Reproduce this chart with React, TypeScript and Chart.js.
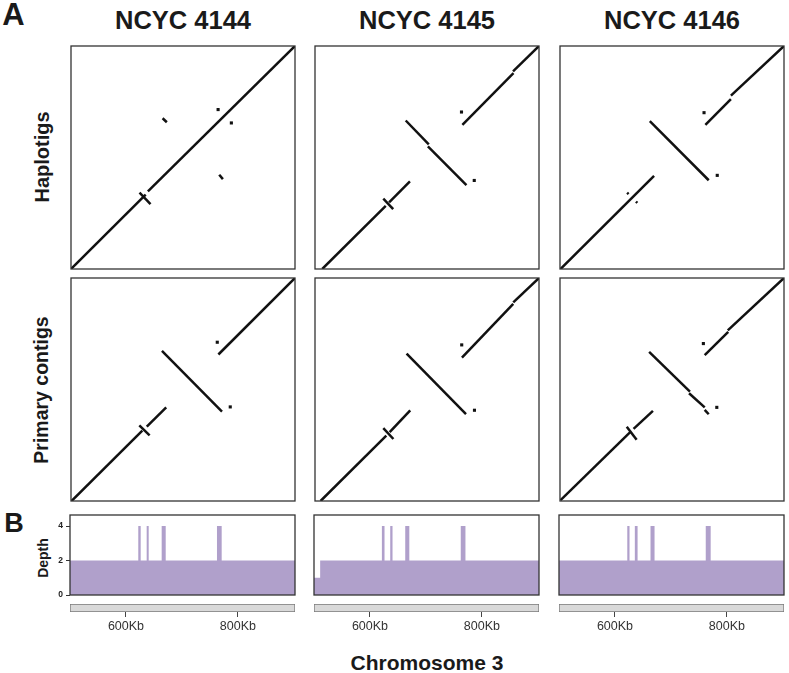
import React, { useEffect, useRef } from 'react';
import { Chart, registerables } from 'chart.js';

Chart.register(...registerables);

const FONT = "'Liberation Sans', Arial, Helvetica, sans-serif";

// ---------- data ----------
const strains = ['NCYC 4144', 'NCYC 4145', 'NCYC 4146'];
const rowLabels = ['Haplotigs', 'Primary contigs'];
const axisMinKb = 500;
const axisMaxKb = 902;
const xTickKb = [600, 800];
const depthMax = 4.64;

// alignment segments [refStartKb, qryStartKb, refEndKb, qryEndKb]
const hap4144Segments = [
  [500, 500, 634, 634],
  [638, 640, 902, 902],
  [623, 637.5, 642.7, 617],
  [664.4, 771.8, 672, 764.5],
  [766, 670, 772.6, 662],
];
const hap4144Dots = [[764, 787.4], [787.8, 763.3]];

const hap4145Segments = [
  [513, 500, 627, 614],
  [633, 620, 670.4, 658],
  [622.6, 627, 640.3, 608.1],
  [662.8, 767.7, 704.2, 724.7],
  [702.6, 721.1, 771.8, 651.2],
  [764.5, 759.7, 856.2, 853],
  [855.4, 856.2, 902, 902],
];
const hap4145Dots = [[785.8, 659.6], [762.9, 783]];

const hap4146Segments = [
  [501, 500, 668.8, 668],
  [620.5, 637.5, 623, 635],
  [636.3, 621.5, 638.8, 619],
  [661.2, 766.5, 766.9, 660],
  [760.9, 759.7, 806.7, 806.3],
  [806.7, 812.4, 902, 902],
];
const hap4146Dots = [[782.2, 668.8], [758.5, 781.8]];

const pri4144Segments = [
  [501, 500, 628, 627],
  [636, 634, 670.9, 668.8],
  [622.6, 636.3, 641.1, 618.2],
  [663.2, 770.5, 771, 661.2],
  [764.5, 764.1, 902, 902],
];
const pri4144Dots = [[785.8, 669.6], [762.5, 786.2]];

const pri4145Segments = [
  [510, 500, 628, 618],
  [634, 624, 670.9, 663.2],
  [622.6, 631.5, 640.7, 611.8],
  [664.4, 765.7, 771, 656.4],
  [763.7, 758.5, 855.8, 855.4],
  [855.8, 858.2, 902, 902],
];
const pri4145Dots = [[786.2, 663.6], [763.3, 781.4]];

const pri4146Segments = [
  [501, 501.6, 626, 624],
  [632, 630, 666.8, 662.4],
  [619.8, 633.9, 637.5, 610.6],
  [660, 768.9, 733.2, 697],
  [731.6, 694.2, 759.7, 668.8],
  [759.7, 664.4, 766.9, 656.4],
  [759.7, 762.9, 801.9, 804.7],
  [801.1, 807.5, 902, 902],
];
const pri4146Dots = [[781.4, 668.8], [757.3, 783.8]];

// depth steps [startKb, depth] (value holds until next start)
const depth4144 = [[500, 2], [622, 4], [626.3, 2], [637, 4], [640.6, 2], [663.8, 4], [671, 2], [762.6, 4], [771, 2], [902, 2]];
const depth4145 = [[500, 1], [511, 2], [621.3, 4], [626, 2], [636.2, 4], [640.3, 2], [663, 4], [670.3, 2], [762.2, 4], [770.6, 2], [902, 2]];
const depth4146 = [[500, 2], [622, 4], [626, 2], [635.5, 4], [640.4, 2], [663.5, 4], [670.7, 2], [762.2, 4], [771, 2], [902, 2]];
const depthTicks = [0, 2, 4];

// ---------- layout ----------
const colLefts = [70, 314, 559];
const dotW = 226;
const rowTops = [45, 277];
const dotH = 225;
const depthW = 225;

const framePlugin = {
  id: 'frame',
  afterDraw(chart: any, _args: any, opts: any) {
    if (!opts || !opts.color) return;
    const { ctx, chartArea } = chart;
    ctx.save();
    ctx.strokeStyle = opts.color;
    ctx.lineWidth = opts.width || 1;
    ctx.strokeRect(chartArea.left, chartArea.top, chartArea.right - chartArea.left, chartArea.bottom - chartArea.top);
    ctx.restore();
  },
};

function DotPlot({ left, top, segments, dots }: any) {
  const ref = useRef<HTMLCanvasElement>(null);
  useEffect(() => {
    const pad = 3;
    const chart = new Chart(ref.current as HTMLCanvasElement, {
      type: 'line',
      data: {
        datasets: [
          ...segments.map((s: number[]) => ({
            data: [{ x: s[0], y: s[1] }, { x: s[2], y: s[3] }],
            borderColor: '#111',
            borderWidth: 2.5,
            pointRadius: 0,
            fill: false,
          })),
          {
            data: dots.map((d: number[]) => ({ x: d[0], y: d[1] })),
            showLine: false,
            pointStyle: 'rect',
            pointRadius: 2.2,
            pointBackgroundColor: '#111',
            pointBorderColor: '#111',
            pointBorderWidth: 0,
          },
        ],
      } as any,
      options: {
        responsive: false,
        animation: false,
        events: [],
        layout: { padding: pad },
        plugins: { legend: { display: false }, tooltip: { enabled: false }, frame: { color: '#333', width: 1.3 } } as any,
        scales: {
          x: { type: 'linear', min: axisMinKb, max: axisMaxKb, display: false },
          y: { type: 'linear', min: axisMinKb, max: axisMaxKb, display: false },
        },
      },
      plugins: [framePlugin],
    });
    return () => chart.destroy();
  }, []);
  return (
    <canvas
      ref={ref}
      width={dotW + 6}
      height={dotH + 6}
      style={{ position: 'absolute', left: left - 3, top: top - 3, width: dotW + 6, height: dotH + 6 }}
    />
  );
}

function DepthPlot({ left, depth, showY }: any) {
  const ref = useRef<HTMLCanvasElement>(null);
  const axisW = 20;
  const leftPad = showY ? 0 : 2;
  const cw = depthW + (showY ? axisW : leftPad) + 2;
  useEffect(() => {
    const yScale: any = {
      type: 'linear',
      min: 0,
      max: depthMax,
      display: showY,
      afterBuildTicks: (s: any) => { s.ticks = depthTicks.map((v) => ({ value: v })); },
      ticks: { font: { family: FONT, size: 8.5, weight: 'bold' }, color: '#222', padding: 3 },
      grid: { drawOnChartArea: false, drawTicks: true, tickLength: 4, color: '#333' },
      border: { display: false },
    };
    if (showY) yScale.afterFit = (s: any) => { s.width = axisW; };
    const chart = new Chart(ref.current as HTMLCanvasElement, {
      type: 'line',
      data: {
        datasets: [
          {
            data: depth.map((d: number[]) => ({ x: d[0], y: d[1] })),
            stepped: true,
            fill: 'origin',
            backgroundColor: '#b0a0cb',
            borderColor: 'rgba(0,0,0,0)',
            borderWidth: 0,
            pointRadius: 0,
          },
        ],
      } as any,
      options: {
        responsive: false,
        animation: false,
        events: [],
        layout: { padding: { top: 10, bottom: 10, left: leftPad, right: 2 } },
        plugins: { legend: { display: false }, tooltip: { enabled: false }, frame: { color: '#333', width: 1.3 } } as any,
        scales: {
          x: { type: 'linear', min: axisMinKb, max: axisMaxKb, display: false },
          y: yScale,
        },
      },
      plugins: [framePlugin],
    });
    return () => chart.destroy();
  }, []);
  return (
    <canvas
      ref={ref}
      width={cw}
      height={100}
      style={{ position: 'absolute', left: left - (showY ? axisW : leftPad), top: 505, width: cw, height: 100 }}
    />
  );
}

function Ideogram({ left }: any) {
  const ref = useRef<HTMLCanvasElement>(null);
  useEffect(() => {
    const chart = new Chart(ref.current as HTMLCanvasElement, {
      type: 'bar',
      data: {
        labels: ['Chromosome 3'],
        datasets: [
          {
            data: [[axisMinKb, axisMaxKb]],
            backgroundColor: '#d9d9d9',
            borderColor: '#7a7a7a',
            borderWidth: 1,
            borderSkipped: false,
            barPercentage: 1,
            categoryPercentage: 1,
          },
        ],
      } as any,
      options: {
        indexAxis: 'y',
        responsive: false,
        animation: false,
        events: [],
        layout: { padding: { top: 3, left: 3, right: 3, bottom: 0 } },
        plugins: { legend: { display: false }, tooltip: { enabled: false } },
        scales: {
          x: {
            type: 'linear',
            min: axisMinKb,
            max: axisMaxKb,
            afterBuildTicks: (s: any) => { s.ticks = xTickKb.map((v) => ({ value: v })); },
            afterFit: (s: any) => { s.height = 30; },
            ticks: { callback: (v: any) => v + 'Kb', font: { family: FONT, size: 12.5 }, color: '#333', padding: 2, maxRotation: 0, autoSkip: false },
            grid: { drawOnChartArea: false, drawTicks: true, tickLength: 5, color: '#444' },
            border: { display: false },
          } as any,
          y: { display: false },
        },
      },
    });
    return () => chart.destroy();
  }, []);
  return (
    <canvas
      ref={ref}
      width={depthW + 6}
      height={41}
      style={{ position: 'absolute', left: left - 3, top: 601, width: depthW + 6, height: 41 }}
    />
  );
}

const txt = (extra: any): any => ({
  position: 'absolute',
  fontFamily: FONT,
  fontWeight: 'bold',
  color: '#1a1a1a',
  lineHeight: 1,
  whiteSpace: 'nowrap',
  ...extra,
});

export default function App() {
  const hapSeg = [hap4144Segments, hap4145Segments, hap4146Segments];
  const hapDots = [hap4144Dots, hap4145Dots, hap4146Dots];
  const priSeg = [pri4144Segments, pri4145Segments, pri4146Segments];
  const priDots = [pri4144Dots, pri4145Dots, pri4146Dots];
  const depths = [depth4144, depth4145, depth4146];
  return (
    <div style={{ position: 'absolute', left: 0, top: 0, width: 789, height: 673, background: '#fff', overflow: 'hidden' }}>
      <div style={txt({ left: 13.5, top: 13.5, fontSize: 31, transform: 'translate(-50%,-50%)' })}>A</div>
      <div style={txt({ left: 14, top: 523, fontSize: 27, transform: 'translate(-50%,-50%)' })}>B</div>
      {strains.map((s, i) => (
        <div key={s} style={txt({ left: colLefts[i] + dotW / 2, top: 21, fontSize: 25.5, transform: 'translate(-50%,-50%)' })}>{s}</div>
      ))}
      <div style={txt({ left: 42, top: 157, fontSize: 20, transform: 'translate(-50%,-50%) rotate(-90deg)' })}>{rowLabels[0]}</div>
      <div style={txt({ left: 42, top: 390, fontSize: 19.5, transform: 'translate(-50%,-50%) rotate(-90deg)' })}>{rowLabels[1]}</div>
      <div style={txt({ left: 43, top: 558, fontSize: 14, transform: 'translate(-50%,-50%) rotate(-90deg)' })}>Depth</div>
      <div style={txt({ left: 427, top: 662, fontSize: 21, transform: 'translate(-50%,-50%)' })}>Chromosome 3</div>
      {colLefts.map((l, i) => (
        <React.Fragment key={i}>
          <DotPlot left={l} top={rowTops[0]} segments={hapSeg[i]} dots={hapDots[i]} />
          <DotPlot left={l} top={rowTops[1]} segments={priSeg[i]} dots={priDots[i]} />
          <DepthPlot left={l} depth={depths[i]} showY={i === 0} />
          <Ideogram left={l} />
        </React.Fragment>
      ))}
    </div>
  );
}
